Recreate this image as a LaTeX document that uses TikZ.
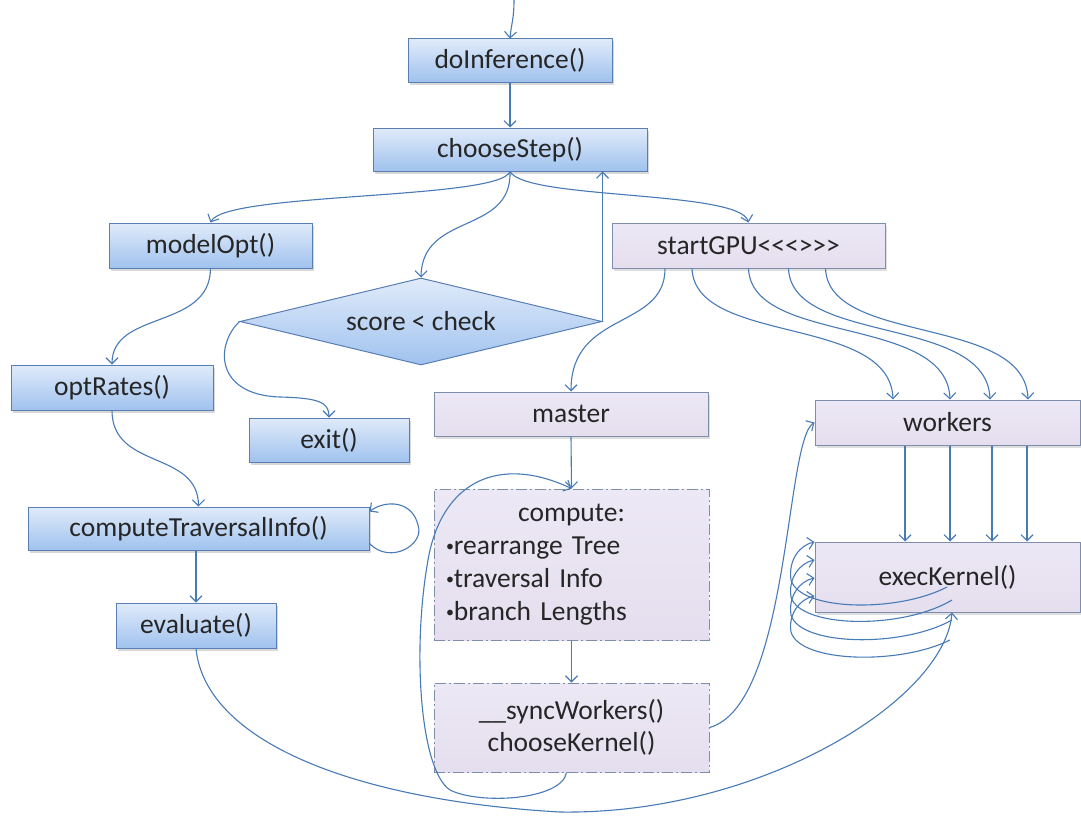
\documentclass[tikz,border=0pt]{standalone}
\usepackage{fontspec}
\newfontfamily\boxfont{Carlito}
\usetikzlibrary{arrows.meta,shapes.geometric,shadows,calc}
\definecolor{wirecol}{RGB}{72,122,182}
\definecolor{bluetop}{RGB}{224,235,250}
\definecolor{bluebot}{RGB}{160,194,238}
\definecolor{blueedge}{RGB}{88,126,180}
\definecolor{lilac}{RGB}{228,222,238}
\definecolor{lilactop}{RGB}{237,232,245}
\definecolor{lilacedge}{RGB}{125,142,172}
\newcommand{\smallbullet}{{\fontsize{16}{16}\selectfont\raisebox{2.5pt}{•}}}
\begin{document}
\begin{tikzpicture}[x=1pt,y=-1pt,
  font=\boxfont\fontsize{27.5}{32}\selectfont,
  bluebox/.style={draw=blueedge, line width=1pt, top color=bluetop, bottom color=bluebot,
    inner sep=0pt, text=black!85,
    drop shadow={shadow xshift=1.5pt, shadow yshift=-2.5pt, opacity=0.3}},
  lilacbox/.style={draw=lilacedge, line width=1pt, top color=lilactop, bottom color=lilac,
    inner sep=0pt, text=black!85,
    drop shadow={shadow xshift=1.5pt, shadow yshift=-2.5pt, opacity=0.25}},
  dashbox/.style={draw=lilacedge, line width=1pt, top color=lilactop, bottom color=lilac,
    text=black!85, dash pattern=on 11pt off 3pt on 2pt off 3pt},
  wire/.style={draw=wirecol, line width=1.1pt,
    -{Straight Barb[length=6pt,width=12pt,line width=1.1pt]}},
]
\fill[white] (0,0) rectangle (1081,816);
\useasboundingbox (0,0) rectangle (1081,816);

% ---- boxes ----
\node[bluebox, minimum width=204pt, minimum height=43pt] (doInf) at (510,60.5) {doInference()};
\node[bluebox, minimum width=274pt, minimum height=43pt] (choose) at (510,149.5) {chooseStep()};
\node[bluebox, minimum width=203pt, minimum height=45pt] (modelOpt) at (210.5,245.5) {modelOpt()};
\node[lilacbox, minimum width=273pt, minimum height=45pt] (startGPU) at (748.5,245.5) {startGPU<<<>>>};
\node[diamond, aspect=4, draw=blueedge, line width=1pt, top color=bluetop, bottom color=bluebot,
      inner sep=0pt, text=black!85, minimum width=362pt, minimum height=87pt] (dia) at (421,321.5) {score < check};
\node[bluebox, minimum width=202pt, minimum height=45pt] (optRates) at (112,387.5) {optRates()};
\node[bluebox, minimum width=160pt, minimum height=44pt] (exit) at (329,440) {exit()};
\node[lilacbox, minimum width=274pt, minimum height=44pt] (master) at (571,414) {master};
\node[lilacbox, minimum width=265pt, minimum height=45pt] (workers) at (947.5,422.5) {workers};
\node[bluebox, minimum width=341pt, minimum height=43pt] (compTrav) at (198.5,528.5) {computeTraversalInfo()};
\node[dashbox, minimum width=275pt, minimum height=151pt, text width=251pt, align=left,
      inner sep=0pt, font=\boxfont\fontsize{27.5}{33}\selectfont] (compute) at (571.5,564.5)
      {\makebox[251pt]{compute:}\\\smallbullet rearrange Tree\\\smallbullet traversal Info\\\smallbullet branch Lengths};
\node[lilacbox, minimum width=265pt, minimum height=70pt] (exec) at (947.5,577) {execKernel()};
\node[bluebox, minimum width=160pt, minimum height=45pt] (evaluate) at (196,625.5) {evaluate()};
\node[dashbox, minimum width=275pt, minimum height=89pt, align=center] (sync) at (571.5,727.5)
      {\_\_syncWorkers()\\chooseKernel()};

% ---- connectors ----
\coordinate (entry) at (514,0);
\draw[wire] (entry) .. controls (514,20) and (511,25) .. (doInf.north);
\draw[wire] (doInf.south) -- (choose.north);
\draw[wire] (choose.south) .. controls (500,200) and (225,192) .. (modelOpt.north);
\draw[wire] (choose.south) .. controls (512,235) and (422,212) .. (dia.north);
\draw[wire] (choose.south) .. controls (525,200) and (740,190) .. (startGPU.north);
\draw[wire] (dia.east) -- (dia.east |- choose.south);
\draw[wire] (dia.west) .. controls (215,345) and (215,395) .. (280,397)
            .. controls (318,398) and (329,402) .. (exit.north);
\draw[wire] (modelOpt.south) .. controls (210,330) and (112,310) .. (optRates.north);
\draw[wire] (optRates.south) .. controls (112,470) and (198,450) .. (compTrav.north);
\draw[wire] ([yshift=7pt]compTrav.south east) .. controls (390,565) and (425,545) .. (418,525)
            .. controls (412,500) and (385,500) .. ([yshift=-5pt]compTrav.north east);
\draw[wire] (evaluate.north |- compTrav.south) -- (evaluate.north);
\draw[wire] (evaluate.south) .. controls (205,740) and (350,800) .. (560,812)
            .. controls (760,815) and (945,700) .. ([xshift=4.5pt]exec.south);

% startGPU fan-out
\draw[wire] ([xshift=-83.5pt]startGPU.south) .. controls (665,330) and (571,310) .. (master.north);
\foreach \s/\e in {-56.5/-54.5, 0/2.5, 40/42.5, 77/80.5}{
  \draw[wire] ([xshift=\s pt]startGPU.south) .. controls ($(startGPU.south)+(\s+3,77)$)
      and ($(workers.north)+(\e-3,-85)$) .. ([xshift=\e pt]workers.north);
}
\foreach \d in {-42.5, 2.5, 44.5, 79.5}{
  \draw[wire] ([xshift=\d pt]workers.south) -- ([xshift=\d pt]exec.north);
}

% master column
\draw[wire] (master.south) -- (compute.north);
\draw[wire] (compute.south) -- (sync.north);
\draw[wire] (sync.east) .. controls (790,705) and (785,440) .. (workers.west);
\draw[wire] ([xshift=-5pt]sync.south) .. controls (562,800) and (480,805) .. (450,790)
            .. controls (420,770) and (412,650) .. (428,560)
            .. controls (442,480) and (500,455) .. (compute.north);

% kernel re-launch loops
\foreach \dx/\dy/\ey/\yb in {-0.5/10/-35/605, 4.5/23/-17/622, 4.5/43/1/640, 2.5/63/19/657}{
  \draw[wire] ($(exec.center)+(\dx,\dy)$) .. controls ($(exec.center)+(\dx-50,\yb-569)$)
      and (800,\yb+6) .. (791,\yb-25)
      .. controls (788,577+\ey+18) and (800,577+\ey+3) .. ($(exec.west)+(0,\ey)$);
}
\end{tikzpicture}
\end{document}
